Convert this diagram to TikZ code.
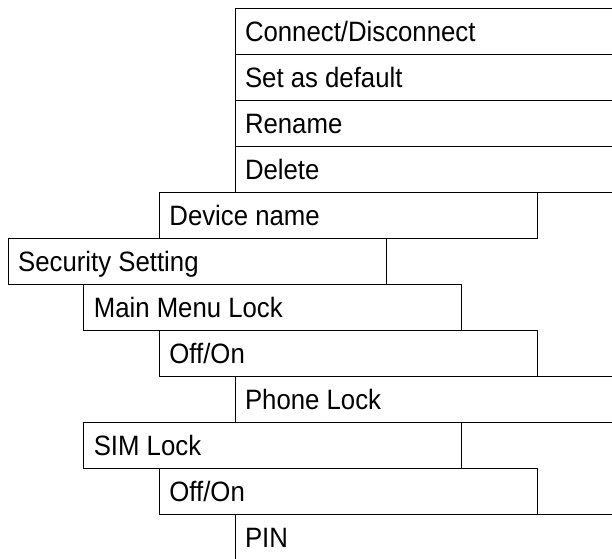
\documentclass[tikz,border=0pt]{standalone}
\usepackage{fontspec}
\setmainfont[FakeStretch=0.92]{Liberation Sans}
\usetikzlibrary{positioning}

\newcommand{\menuitem}[1]{\makebox[358pt][l]{#1}}

\begin{document}
\begin{tikzpicture}[
        node distance=0pt,
        menubox/.style={rectangle, draw=black, line width=0.8pt, outer sep=0pt, minimum width=378pt, minimum height=46pt, inner xsep=10pt, inner ysep=0pt, text height=33pt, text depth=13pt, font=\fontsize{28}{32}\selectfont}
    ]
        \useasboundingbox (0,0) rectangle (612pt,-558pt);
        \clip (0,0) rectangle (612pt,-558pt);

        \node[menubox, anchor=north west] (connect) at (235pt,-8pt) {\menuitem{Connect/Disconnect}};
        \node[menubox, below=of connect] (default) {\menuitem{Set as default}};
        \node[menubox, below=of default] (rename) {\menuitem{Rename}};
        \node[menubox, below=of rename] (delete) {\menuitem{Delete}};
        \node[menubox, below=of delete, xshift=-75.6pt] (devname) {\menuitem{Device name}};
        \node[menubox, below=of devname, xshift=-151.2pt] (security) {\menuitem{Security Setting}};
        \node[menubox, below=of security, xshift=75.6pt] (mainlock) {\menuitem{Main Menu Lock}};
        \node[menubox, below=of mainlock, xshift=75.6pt] (mainonoff) {\menuitem{Off/On}};
        \node[menubox, below=of mainonoff, xshift=75.6pt] (phonelock) {\menuitem{Phone Lock}};
        \node[menubox, below=of phonelock, xshift=-151.2pt] (simlock) {\menuitem{SIM Lock}};
        \node[menubox, below=of simlock, xshift=75.6pt] (simonoff) {\menuitem{Off/On}};
        \node[menubox, below=of simonoff, xshift=75.6pt] (pin) {\menuitem{PIN}};
    \end{tikzpicture}
\end{document}
